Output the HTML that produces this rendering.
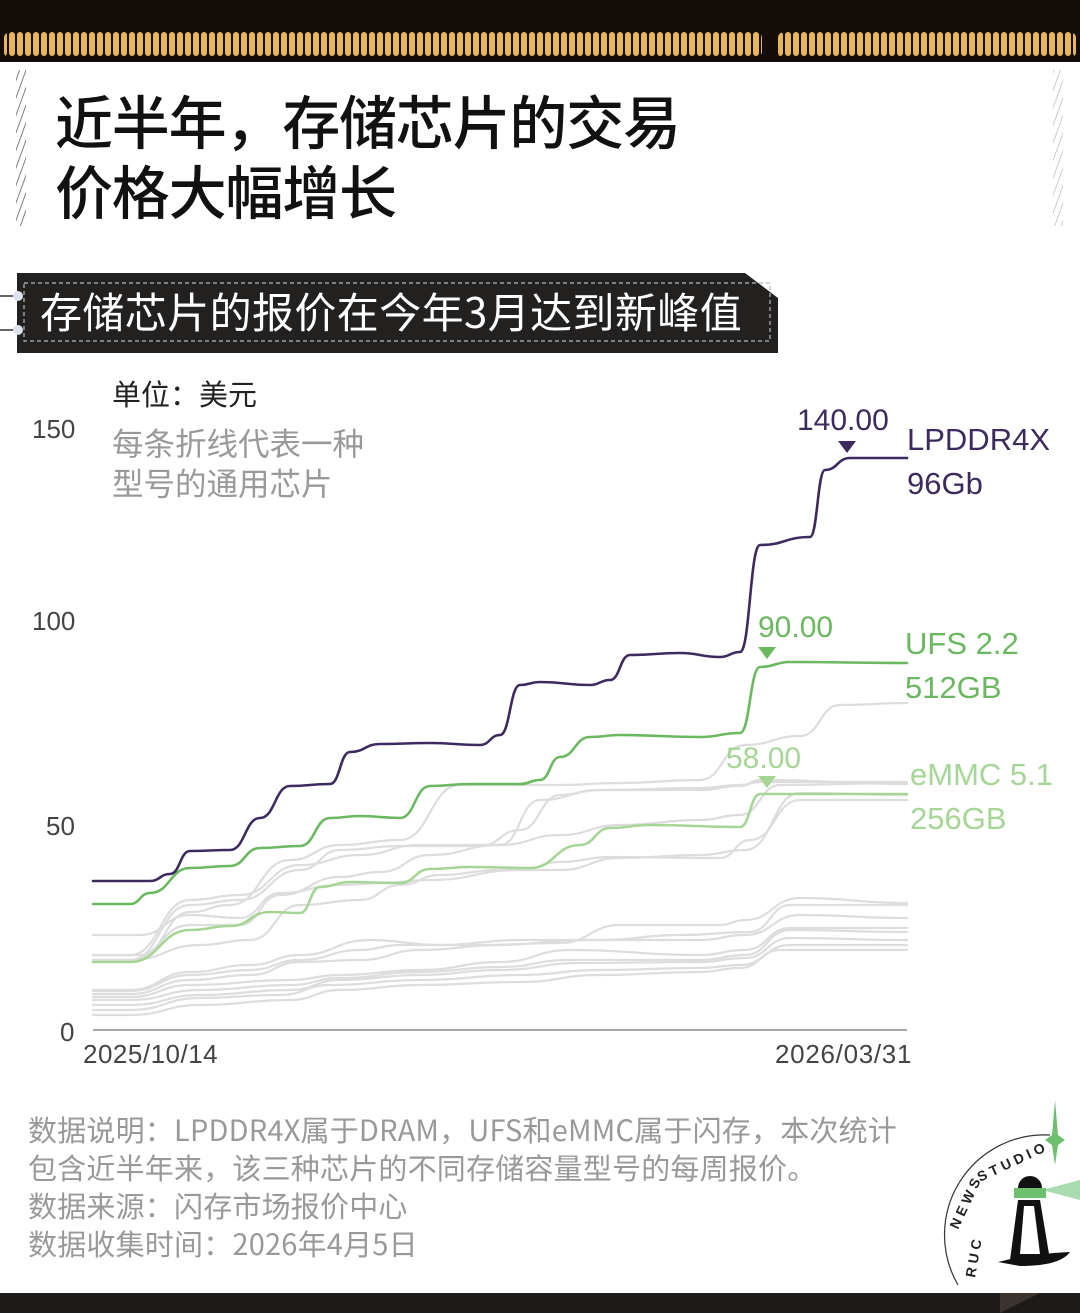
<!DOCTYPE html>
<html><head><meta charset="utf-8">
<style>
body{margin:0;width:1080px;height:1313px;background:#fff;position:relative;overflow:hidden;font-family:"Liberation Sans","Noto Sans CJK SC",sans-serif}
.a{position:absolute;white-space:nowrap}
</style></head><body>
<svg class="a" style="left:0;top:0" width="1080" height="1313">
<defs>
<pattern id="pil" width="8" height="30" patternUnits="userSpaceOnUse"><rect x="1" y="2" width="6" height="24" rx="3" fill="#e8b65a"/></pattern>
<pattern id="hatch" width="6" height="6" patternUnits="userSpaceOnUse" patternTransform="rotate(20)"><line x1="0" y1="0" x2="0" y2="6" stroke="#555" stroke-width="1.5"/></pattern>
<pattern id="hatch2" width="6" height="6" patternUnits="userSpaceOnUse" patternTransform="rotate(20)"><line x1="0" y1="0" x2="0" y2="6" stroke="#bbb" stroke-width="1.5"/></pattern>
</defs>
<rect x="0" y="0" width="1080" height="62" fill="#140d0a"/>
<rect x="4" y="32" width="758" height="26" rx="6" fill="url(#pil)"/>
<rect x="778" y="32" width="298" height="26" rx="6" fill="url(#pil)"/>
<rect x="16" y="70" width="10" height="156" fill="url(#hatch)"/>
<rect x="1053" y="70" width="10" height="156" fill="url(#hatch2)"/>
<path d="M17,273 H745 L778,298 V353 H17Z" fill="#232020"/>
<rect x="24" y="283" width="746" height="58" fill="none" stroke="#bbb" stroke-width="1.2" stroke-dasharray="4,3"/>
<line x1="0" y1="296" x2="18" y2="296" stroke="#333" stroke-width="1.5"/>
<line x1="0" y1="330" x2="18" y2="330" stroke="#333" stroke-width="1.5"/>
<circle cx="18" cy="296" r="5" fill="#dde2ee"/><circle cx="18" cy="330" r="5" fill="#dde2ee"/>
<line x1="93" y1="1030" x2="907" y2="1030" stroke="#888" stroke-width="1.5"/>
<g id="lines" fill="none" stroke-linecap="round"></g>
<path d="M838,441 h18 l-9,12z" fill="#3d2a5e"/>
<path d="M758,647 h18 l-9,12z" fill="#6ab85f"/>
<path d="M758,776 h18 l-9,12z" fill="#a5d696"/>
<path d="M0,1293 H1080 V1313 H0Z" fill="#1e1a18"/>
<path d="M1000,1293 L1040,1293 L1000,1313Z" fill="#3a3431"/>
<path d="M958,1285 A100,100 0 0 1 1050,1135" fill="none" stroke="#333" stroke-width="1.2"/>
<path d="M1055,1100 l3,35 l7,5 l-7,5 l-3,20 l-3,-20 l-7,-5 l7,-5z" fill="#6cc06e"/>
<path d="M1042,1190 L1080,1180 V1200 Z" fill="#a8dcb0"/>
<path d="M1018,1188 a12,12 0 0 1 24,0z" fill="#111"/>
<rect x="1014" y="1188" width="32" height="10" fill="#6cc06e"/>
<path d="M1018,1200 h22 l10,60 h-40z" fill="#111"/>
<path d="M1024,1206 h10 l6,48 h-20z" fill="#fff"/>
<path d="M998,1262 q30,-8 72,-10 q-10,14 -50,14z" fill="#111"/>
<text x="0" y="0" font-family="Liberation Sans" font-weight="bold" font-size="14" fill="#222" letter-spacing="4" transform="translate(975,1278) rotate(-80)">RUC</text>
<text x="0" y="0" font-family="Liberation Sans" font-weight="bold" font-size="14" fill="#222" letter-spacing="4" transform="translate(958,1230) rotate(-65)">NEWS</text>
<text x="0" y="0" font-family="Liberation Sans" font-weight="bold" font-size="14" fill="#222" letter-spacing="4" transform="translate(980,1182) rotate(-25)">STUDIO</text>
</svg>
<div class="a" style="left:55px;top:84px;font-size:58px;font-weight:500;color:#111;line-height:70px;font-family:'Noto Sans CJK SC',sans-serif;letter-spacing:-1.2px">近半年，存储芯片的交易<br>价格大幅增长</div>
<div class="a" style="left:40px;top:283px;font-size:42px;color:#fff;line-height:56px;font-family:'Noto Sans CJK SC',sans-serif;letter-spacing:0.4px">存储芯片的报价在今年3月达到新峰值</div>
<div class="a" style="left:112px;top:372px;font-size:29px;color:#222;font-family:'Noto Sans CJK SC',sans-serif">单位：美元</div>
<div class="a" style="left:112px;top:422px;font-size:31.5px;color:#999;line-height:40px;font-family:'Noto Sans CJK SC',sans-serif">每条折线代表一种<br>型号的通用芯片</div>
<div class="a" style="left:32px;top:414px;font-size:26px;color:#444">150</div>
<div class="a" style="left:32px;top:606px;font-size:26px;color:#444">100</div>
<div class="a" style="left:46px;top:811px;font-size:26px;color:#444">50</div>
<div class="a" style="left:60px;top:1017px;font-size:26px;color:#444">0</div>
<div class="a" style="left:83px;top:1039px;font-size:26px;color:#444;letter-spacing:0.5px">2025/10/14</div>
<div class="a" style="left:775px;top:1039px;font-size:26px;color:#444;letter-spacing:0.7px">2026/03/31</div>
<div class="a" style="left:797px;top:404px;font-size:30px;color:#3d2a5e">140.00</div>
<div class="a" style="left:907px;top:418px;font-size:31px;color:#3d2a5e;line-height:44px">LPDDR4X<br>96Gb</div>
<div class="a" style="left:758px;top:611px;font-size:30px;color:#6ab85f">90.00</div>
<div class="a" style="left:905px;top:622px;font-size:31px;color:#6ab85f;line-height:44px">UFS 2.2<br>512GB</div>
<div class="a" style="left:726px;top:742px;font-size:30px;color:#a5d696">58.00</div>
<div class="a" style="left:910px;top:753px;font-size:31px;color:#a5d696;line-height:44px">eMMC 5.1<br>256GB</div>
<div class="a" style="left:28px;top:1110px;font-size:29px;color:#999;line-height:38px;font-family:'Noto Sans CJK SC',sans-serif;letter-spacing:0.2px">数据说明：LPDDR4X属于DRAM，UFS和eMMC属于闪存，本次统计<br>包含近半年来，该三种芯片的不同存储容量型号的每周报价。<br>数据来源：闪存市场报价中心<br>数据收集时间：2026年4月5日</div>
<script>
function P(pts){let d="M"+pts[0][0]+","+pts[0][1];for(let i=1;i<pts.length;i++){const[a,b]=pts[i-1],[c,e]=pts[i];const m=(a+c)/2;d+=` C${m},${b} ${m},${e} ${c},${e}`;}return d;}
const S=[
["#ddd",[[93,1015],[130,1015],[200,1005],[290,1000],[340,990],[420,985],[520,982],[600,975],[700,972],[740,968],[780,950],[907,950]]],
["#ddd",[[93,1010],[130,1010],[200,998],[280,995],[330,985],[420,980],[520,975],[600,970],[700,968],[740,965],[790,945],[907,945]]],
["#ddd",[[93,1005],[130,1005],[200,995],[290,990],[340,980],[420,975],[500,970],[580,963],[700,962],[745,958],[790,938],[907,940]]],
["#ddd",[[93,1000],[130,1000],[200,990],[290,985],[340,978],[420,972],[500,967],[570,960],[700,960],[745,955],[790,930],[907,932]]],
["#ddd",[[93,997],[130,997],[190,985],[290,980],[340,975],[420,970],[500,962],[570,950],[700,955],[745,950],[790,928],[907,928]]],
["#ddd",[[93,994],[130,994],[190,980],[250,975],[300,962],[360,960],[420,950],[500,945],[580,940],[700,940],[745,935],[800,915],[907,918]]],
["#ddd",[[93,991],[130,991],[190,975],[250,970],[300,960],[360,950],[400,945],[480,945],[560,943],[620,925],[720,925],[745,920],[800,898],[907,903]]],
["#ddd",[[93,990],[130,990],[190,972],[250,965],[300,955],[370,940],[440,945],[520,940],[600,940],[680,935],[750,932],[790,905],[907,905]]],
["#ddd",[[93,960],[130,960],[200,945],[250,940],[300,905],[360,900],[400,885],[440,875],[500,870],[560,870],[620,858],[700,855],[745,850],[800,793],[907,795]]],
["#ddd",[[93,935],[140,935],[190,915],[240,918],[280,893],[340,885],[380,883],[430,880],[520,870],[560,862],[610,857],[720,858],[750,840],[800,800],[907,800]]],
["#ddd",[[93,960],[130,960],[190,925],[240,925],[280,895],[340,877],[380,872],[430,855],[500,845],[560,835],[620,825],[700,820],[740,815],[780,785],[907,783]]],
["#ddd",[[93,960],[130,960],[190,905],[240,900],[300,870],[340,850],[400,846],[480,846],[520,830],[560,795],[600,790],[700,788],[740,785],[760,782],[907,782]]],
["#ddd",[[93,955],[130,955],[190,900],[240,895],[300,865],[360,855],[420,845],[500,845],[540,800],[600,790],[700,790],[740,786],[760,780],[907,784]]],
["#ddd",[[93,955],[140,955],[190,912],[230,905],[290,860],[340,845],[400,840],[460,785],[560,785],[620,783],[700,780],[745,745],[800,736],[840,705],[907,703]]],
["#a5d696",[[93,962],[130,962],[190,930],[230,926],[270,912],[300,913],[320,887],[350,882],[400,883],[430,869],[470,867],[530,868],[580,845],[610,828],[650,825],[740,827],[760,794],[907,794]]],
["#6ab85f",[[93,904],[130,904],[150,893],[190,868],[230,866],[260,848],[300,846],[330,818],[360,816],[400,818],[430,786],[470,784],[520,784],[540,780],[560,757],[590,737],[620,735],[700,737],[740,733],[760,667],[790,662],[907,663]]],
["#3d2a5e",[[93,881],[150,881],[170,874],[190,851],[230,850],[260,818],[290,786],[330,784],[350,752],[380,744],[430,743],[480,745],[500,735],[520,685],[540,682],[590,685],[610,680],[630,655],[680,653],[720,657],[740,652],[760,545],[810,537],[825,470],[850,458],[907,458]]]
];
const g=document.getElementById("lines");let h="";
for(const[c,p]of S){h+=`<path d="${P(p)}" stroke="${c}" stroke-width="${c=='#ddd'?2.2:2.6}"/>`;}
g.innerHTML=h;
</script>
</body></html>
